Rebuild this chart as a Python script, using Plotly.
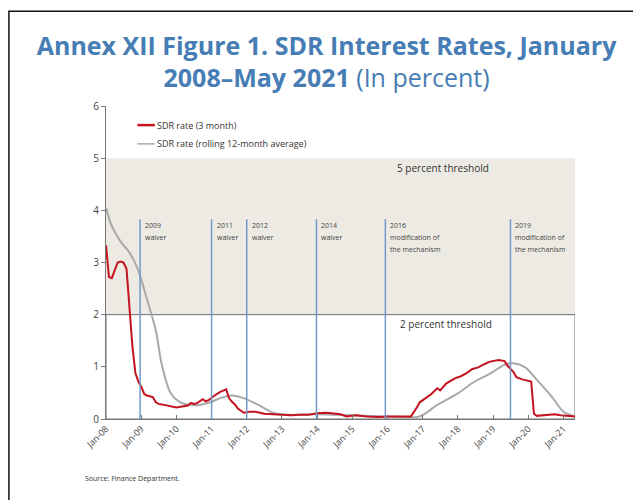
import plotly.graph_objects as go

# ---- data ----
red_dates = ["2008-01", "2008-02", "2008-03", "2008-04", "2008-05", "2008-06", "2008-07", "2008-08",
             "2008-09", "2008-10", "2008-11", "2008-12", "2009-01", "2009-02", "2009-03", "2009-04",
             "2009-05", "2009-06", "2009-07", "2009-08", "2009-09", "2009-11", "2010-01", "2010-03",
             "2010-05", "2010-06", "2010-07", "2010-08", "2010-09", "2010-10", "2010-11", "2010-12",
             "2011-02", "2011-04", "2011-06", "2011-07", "2011-08", "2011-09", "2011-10", "2011-12",
             "2012-02", "2012-04", "2012-07", "2012-10", "2013-01", "2013-04", "2013-07", "2013-10",
             "2014-01", "2014-04", "2014-06", "2014-09", "2014-11", "2015-02", "2015-06", "2015-10",
             "2016-01", "2016-05", "2016-09", "2016-11", "2016-12", "2017-02", "2017-04", "2017-06",
             "2017-07", "2017-09", "2017-12", "2018-02", "2018-04", "2018-06", "2018-08", "2018-10",
             "2018-12", "2019-03", "2019-05", "2019-06", "2019-08", "2019-09", "2019-11", "2020-02",
             "2020-03", "2020-04", "2020-07", "2020-10", "2020-12", "2021-02", "2021-05"]
red_values = [3.33, 2.72, 2.70, 2.85, 3.00, 3.02, 3.00, 2.88,
              2.10, 1.40, 0.88, 0.72, 0.62, 0.48, 0.45, 0.44,
              0.42, 0.32, 0.29, 0.28, 0.27, 0.24, 0.22, 0.24,
              0.26, 0.31, 0.29, 0.30, 0.34, 0.38, 0.34, 0.36,
              0.45, 0.52, 0.57, 0.40, 0.33, 0.28, 0.20, 0.12,
              0.14, 0.14, 0.10, 0.09, 0.08, 0.07, 0.08, 0.08,
              0.11, 0.12, 0.11, 0.09, 0.05, 0.07, 0.05, 0.04,
              0.05, 0.05, 0.05, 0.22, 0.32, 0.40, 0.48, 0.59,
              0.55, 0.68, 0.78, 0.82, 0.88, 0.96, 0.99, 1.05,
              1.10, 1.13, 1.11, 1.02, 0.90, 0.80, 0.76, 0.72,
              0.10, 0.06, 0.08, 0.09, 0.07, 0.06, 0.05]

gray_dates = ["2008-01", "2008-03", "2008-06", "2008-09", "2008-12", "2009-03", "2009-06", "2009-08",
              "2009-11", "2010-02", "2010-06", "2010-09", "2011-01", "2011-04", "2011-08", "2011-12",
              "2012-05", "2012-10", "2013-03", "2014-01", "2015-01", "2016-01", "2016-12", "2017-06",
              "2018-01", "2018-06", "2018-12", "2019-05", "2019-08", "2019-12", "2020-04", "2020-09",
              "2021-01", "2021-05"]
gray_values = [4.05, 3.70, 3.40, 3.19, 2.85, 2.30, 1.70, 1.05,
               0.50, 0.33, 0.27, 0.27, 0.33, 0.40, 0.45, 0.40,
               0.27, 0.12, 0.08, 0.09, 0.07, 0.05, 0.05, 0.27,
               0.49, 0.69, 0.87, 1.04, 1.07, 0.99, 0.75, 0.43,
               0.14, 0.05]

event_dates = ["2008-12-20", "2011-01-01", "2012-01-01", "2013-12-25", "2015-12-10", "2019-07-01"]
event_labels = [["2009", "waiver"], ["2011", "waiver"], ["2012", "waiver"], ["2014", "waiver"],
                ["2016", "modification of", "the mechanism"], ["2019", "modification of", "the mechanism"]]

tick_dates = [f"{y}-01-01" for y in range(2008, 2022)]
tick_labels = [f"Jan-{str(y)[2:]}" for y in range(2008, 2022)]

series_names = ["SDR rate (3 month)", "SDR rate (rolling 12-month average)"]

X0, X1 = "2008-01-01", "2021-05-01"
RED, GRAY, BLUE = "#C4121F", "#A9A9A9", "#7399CC"
FONT = "Open Sans"

fig = go.Figure()
fig.add_trace(go.Scatter(x=gray_dates, y=gray_values, mode="lines", name=series_names[1],
                         line=dict(color=GRAY, width=2, shape="spline", smoothing=0.8),
                         showlegend=False))
fig.add_trace(go.Scatter(x=red_dates, y=red_values, mode="lines", name=series_names[0],
                         line=dict(color=RED, width=2), showlegend=False))

shapes = []
# threshold zones
shapes.append(dict(type="rect", xref="x", yref="y", x0=X0, x1=X1, y0=2, y1=5,
                   fillcolor="#ECEAE2", line=dict(width=0), layer="below"))
shapes.append(dict(type="rect", xref="x", yref="y", x0=X0, x1=X1, y0=0, y1=2,
                   fillcolor="rgba(0,0,0,0)", line=dict(color="#6E6E6E", width=1), layer="below"))
# event lines
for d in event_dates:
    shapes.append(dict(type="line", xref="x", yref="y", x0=d, x1=d, y0=0, y1=3.83,
                       line=dict(color=BLUE, width=1.5), layer="above"))
# legend keys (drawn manually)
shapes.append(dict(type="line", xref="paper", yref="paper", x0=0.067, x1=0.104, y0=0.939, y1=0.939,
                   line=dict(color=RED, width=2.5)))
shapes.append(dict(type="line", xref="paper", yref="paper", x0=0.067, x1=0.104, y0=0.879, y1=0.879,
                   line=dict(color=GRAY, width=1.5)))
# outer frame
shapes.append(dict(type="rect", xref="paper", yref="paper", x0=-0.207, x1=1.3, y0=-0.6, y1=1.303,
                   line=dict(color="#111111", width=1.5), fillcolor="rgba(0,0,0,0)"))

annotations = []
for d, lines in zip(event_dates, event_labels):
    for i, txt in enumerate(lines):
        annotations.append(dict(x=d, y=3.84, xref="x", yref="y", text=txt, showarrow=False,
                                xanchor="left", yanchor="top", align="left", xshift=3, yshift=-12 * i,
                                font=dict(size=7, color="#444444", family=FONT)))
annotations.append(dict(x="2017-08-01", y=4.81, xref="x", yref="y", text="5 percent threshold",
                        showarrow=False, font=dict(size=10, color="#333333", family=FONT)))
annotations.append(dict(x="2017-09-01", y=1.83, xref="x", yref="y", text="2 percent threshold",
                        showarrow=False, font=dict(size=10, color="#333333", family=FONT)))
annotations.append(dict(x=0.105, y=0.939, xref="paper", yref="paper", text=series_names[0],
                        showarrow=False, xanchor="left", yanchor="middle",
                        font=dict(size=9, color="#333333", family=FONT)))
annotations.append(dict(x=0.105, y=0.879, xref="paper", yref="paper", text=series_names[1],
                        showarrow=False, xanchor="left", yanchor="middle",
                        font=dict(size=9, color="#333333", family=FONT)))
annotations.append(dict(x=-0.05, y=-0.19, xref="paper", yref="paper", text="Source: Finance Department.",
                        showarrow=False, xanchor="left", yanchor="middle",
                        font=dict(size=7, color="#333333", family=FONT)))

fig.update_layout(
    width=641, height=500,
    margin=dict(l=98, r=74, t=98, b=89),
    paper_bgcolor="white", plot_bgcolor="white",
    title=dict(text="<b>Annex XII Figure 1. SDR Interest Rates, January<br>2008–May 2021</b> (In percent)",
               x=0.497, xref="container", y=0.907, yref="container", yanchor="middle", xanchor="center",
               font=dict(size=25, color="#467DB4", family=FONT)),
    shapes=shapes, annotations=annotations,
    xaxis=dict(type="date", range=[X0, X1], tickvals=tick_dates, ticktext=tick_labels,
               tickangle=-45, ticks="inside", ticklen=4, tickcolor="#777777",
               showline=True, linecolor="#777777", linewidth=1, showgrid=False, zeroline=False,
               tickfont=dict(size=9, color="#444444", family=FONT)),
    yaxis=dict(range=[0, 6], tickvals=[0, 1, 2, 3, 4, 5, 6], ticks="outside", ticklen=4,
               tickcolor="#777777", showline=True, linecolor="#777777", linewidth=1,
               showgrid=False, zeroline=False,
               tickfont=dict(size=10, color="#444444", family=FONT)),
    showlegend=False,
)

fig.write_html("out.html")
